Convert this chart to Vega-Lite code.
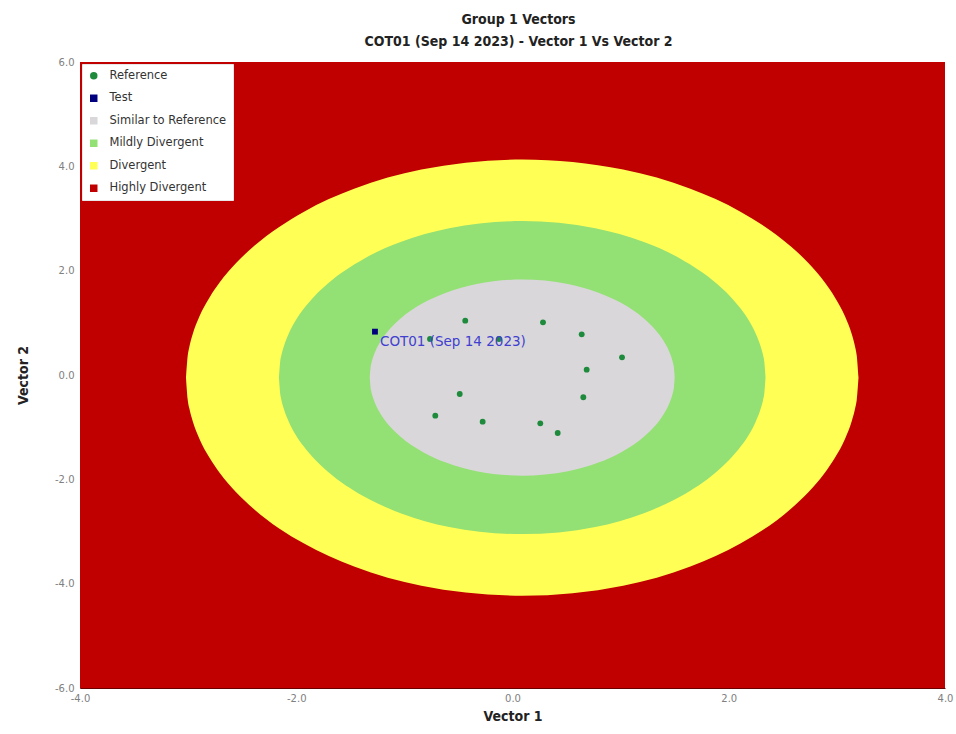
{
  "$schema": "https://vega.github.io/schema/vega-lite/v6.json",
  "width": 865,
  "height": 626,
  "autosize": {"type": "none"},
  "padding": {"left": 80, "top": 62, "right": 11, "bottom": 46},
  "background": "white",
  "title": {
    "text": ["Group 1 Vectors", "COT01 (Sep 14 2023) - Vector 1 Vs Vector 2"],
    "font": "'DejaVu Sans Condensed', 'Liberation Sans', sans-serif",
    "fontSize": 14,
    "fontWeight": "bold",
    "color": "#222222",
    "lineHeight": 22,
    "offset": 8,
    "frame": "group",
    "anchor": "middle",
    "dx": 6
  },
  "config": {
    "view": {"stroke": null},
    "font": "DejaVu Sans",
    "axis": {
      "grid": false,
      "ticks": false,
      "domain": true,
      "domainColor": "#6a0000",
      "domainWidth": 1,
      "labelColor": "#808080",
      "labelFontSize": 10,
      "labelFont": "DejaVu Sans",
      "titleFont": "'DejaVu Sans Condensed', 'Liberation Sans', sans-serif",
      "titleFontSize": 14,
      "titleFontWeight": "bold",
      "titleColor": "#222222",
      "labelOverlap": false,
      "labelBound": false,
      "labelFlush": false
    },
    "legend": {
      "orient": "top-left",
      "offset": 2,
      "padding": 6,
      "fillColor": "white",
      "strokeColor": "#e8e8e8",
      "labelFont": "DejaVu Sans",
      "labelFontSize": 11.5,
      "labelColor": "#333333",
      "labelOffset": 10,
      "labelLimit": 300,
      "rowPadding": 9.5,
      "symbolSize": 56,
      "symbolStrokeWidth": 0,
      "cornerRadius": 0
    }
  },
  "datasets": {
    "zones": [
      {"cat": "Highly Divergent", "x": -4, "x2": 4, "y": -6, "y2": 6}
    ],
    "rings": [
      {"cat": "Divergent", "x": -3.02, "top": -0.05, "bot": -0.05},
      {"cat": "Divergent", "x": -3.004, "top": 0.368, "bot": -0.468},
      {"cat": "Divergent", "x": -2.989, "top": 0.539, "bot": -0.639},
      {"cat": "Divergent", "x": -2.958, "top": 0.782, "bot": -0.882},
      {"cat": "Divergent", "x": -2.896, "top": 1.12, "bot": -1.22},
      {"cat": "Divergent", "x": -2.802, "top": 1.487, "bot": -1.587},
      {"cat": "Divergent", "x": -2.709, "top": 1.772, "bot": -1.872},
      {"cat": "Divergent", "x": -2.554, "top": 2.152, "bot": -2.252},
      {"cat": "Divergent", "x": -2.398, "top": 2.458, "bot": -2.558},
      {"cat": "Divergent", "x": -1.932, "top": 3.127, "bot": -3.227},
      {"cat": "Divergent", "x": -1.465, "top": 3.57, "bot": -3.67},
      {"cat": "Divergent", "x": -0.843, "top": 3.938, "bot": -4.038},
      {"cat": "Divergent", "x": 0.09, "top": 4.13, "bot": -4.23},
      {"cat": "Divergent", "x": 1.023, "top": 3.938, "bot": -4.038},
      {"cat": "Divergent", "x": 1.645, "top": 3.57, "bot": -3.67},
      {"cat": "Divergent", "x": 2.112, "top": 3.127, "bot": -3.227},
      {"cat": "Divergent", "x": 2.578, "top": 2.458, "bot": -2.558},
      {"cat": "Divergent", "x": 2.734, "top": 2.152, "bot": -2.252},
      {"cat": "Divergent", "x": 2.889, "top": 1.772, "bot": -1.872},
      {"cat": "Divergent", "x": 2.982, "top": 1.487, "bot": -1.587},
      {"cat": "Divergent", "x": 3.076, "top": 1.12, "bot": -1.22},
      {"cat": "Divergent", "x": 3.138, "top": 0.782, "bot": -0.882},
      {"cat": "Divergent", "x": 3.169, "top": 0.539, "bot": -0.639},
      {"cat": "Divergent", "x": 3.184, "top": 0.368, "bot": -0.468},
      {"cat": "Divergent", "x": 3.2, "top": -0.05, "bot": -0.05},
      {"cat": "Mildly Divergent", "x": -2.16, "top": -0.05, "bot": -0.05},
      {"cat": "Mildly Divergent", "x": -2.149, "top": 0.25, "bot": -0.35},
      {"cat": "Mildly Divergent", "x": -2.138, "top": 0.373, "bot": -0.473},
      {"cat": "Mildly Divergent", "x": -2.115, "top": 0.547, "bot": -0.647},
      {"cat": "Mildly Divergent", "x": -2.07, "top": 0.79, "bot": -0.89},
      {"cat": "Mildly Divergent", "x": -2.003, "top": 1.053, "bot": -1.153},
      {"cat": "Mildly Divergent", "x": -1.935, "top": 1.258, "bot": -1.358},
      {"cat": "Mildly Divergent", "x": -1.823, "top": 1.53, "bot": -1.63},
      {"cat": "Mildly Divergent", "x": -1.71, "top": 1.75, "bot": -1.85},
      {"cat": "Mildly Divergent", "x": -1.373, "top": 2.23, "bot": -2.33},
      {"cat": "Mildly Divergent", "x": -1.035, "top": 2.548, "bot": -2.648},
      {"cat": "Mildly Divergent", "x": -0.585, "top": 2.812, "bot": -2.912},
      {"cat": "Mildly Divergent", "x": 0.09, "top": 2.95, "bot": -3.05},
      {"cat": "Mildly Divergent", "x": 0.765, "top": 2.812, "bot": -2.912},
      {"cat": "Mildly Divergent", "x": 1.215, "top": 2.548, "bot": -2.648},
      {"cat": "Mildly Divergent", "x": 1.553, "top": 2.23, "bot": -2.33},
      {"cat": "Mildly Divergent", "x": 1.89, "top": 1.75, "bot": -1.85},
      {"cat": "Mildly Divergent", "x": 2.003, "top": 1.53, "bot": -1.63},
      {"cat": "Mildly Divergent", "x": 2.115, "top": 1.258, "bot": -1.358},
      {"cat": "Mildly Divergent", "x": 2.183, "top": 1.053, "bot": -1.153},
      {"cat": "Mildly Divergent", "x": 2.25, "top": 0.79, "bot": -0.89},
      {"cat": "Mildly Divergent", "x": 2.295, "top": 0.547, "bot": -0.647},
      {"cat": "Mildly Divergent", "x": 2.318, "top": 0.373, "bot": -0.473},
      {"cat": "Mildly Divergent", "x": 2.329, "top": 0.25, "bot": -0.35},
      {"cat": "Mildly Divergent", "x": 2.34, "top": -0.05, "bot": -0.05},
      {"cat": "Similar to Reference", "x": -1.32, "top": -0.05, "bot": -0.05},
      {"cat": "Similar to Reference", "x": -1.313, "top": 0.138, "bot": -0.238},
      {"cat": "Similar to Reference", "x": -1.306, "top": 0.215, "bot": -0.315},
      {"cat": "Similar to Reference", "x": -1.292, "top": 0.324, "bot": -0.424},
      {"cat": "Similar to Reference", "x": -1.264, "top": 0.476, "bot": -0.576},
      {"cat": "Similar to Reference", "x": -1.221, "top": 0.641, "bot": -0.741},
      {"cat": "Similar to Reference", "x": -1.179, "top": 0.77, "bot": -0.87},
      {"cat": "Similar to Reference", "x": -1.109, "top": 0.94, "bot": -1.04},
      {"cat": "Similar to Reference", "x": -1.038, "top": 1.078, "bot": -1.178},
      {"cat": "Similar to Reference", "x": -0.827, "top": 1.379, "bot": -1.479},
      {"cat": "Similar to Reference", "x": -0.615, "top": 1.578, "bot": -1.678},
      {"cat": "Similar to Reference", "x": -0.333, "top": 1.744, "bot": -1.844},
      {"cat": "Similar to Reference", "x": 0.09, "top": 1.83, "bot": -1.93},
      {"cat": "Similar to Reference", "x": 0.513, "top": 1.744, "bot": -1.844},
      {"cat": "Similar to Reference", "x": 0.795, "top": 1.578, "bot": -1.678},
      {"cat": "Similar to Reference", "x": 1.007, "top": 1.379, "bot": -1.479},
      {"cat": "Similar to Reference", "x": 1.218, "top": 1.078, "bot": -1.178},
      {"cat": "Similar to Reference", "x": 1.289, "top": 0.94, "bot": -1.04},
      {"cat": "Similar to Reference", "x": 1.359, "top": 0.77, "bot": -0.87},
      {"cat": "Similar to Reference", "x": 1.401, "top": 0.641, "bot": -0.741},
      {"cat": "Similar to Reference", "x": 1.444, "top": 0.476, "bot": -0.576},
      {"cat": "Similar to Reference", "x": 1.472, "top": 0.324, "bot": -0.424},
      {"cat": "Similar to Reference", "x": 1.486, "top": 0.215, "bot": -0.315},
      {"cat": "Similar to Reference", "x": 1.493, "top": 0.138, "bot": -0.238},
      {"cat": "Similar to Reference", "x": 1.5, "top": -0.05, "bot": -0.05}
    ],
    "points": [
      {"cat": "Reference", "x": -0.437, "y": 1.041},
      {"cat": "Reference", "x": 0.282, "y": 1.01},
      {"cat": "Reference", "x": 0.64, "y": 0.78},
      {"cat": "Reference", "x": 1.013, "y": 0.339},
      {"cat": "Reference", "x": 0.686, "y": 0.102},
      {"cat": "Reference", "x": 0.655, "y": -0.427},
      {"cat": "Reference", "x": -0.488, "y": -0.364},
      {"cat": "Reference", "x": -0.714, "y": -0.78},
      {"cat": "Reference", "x": -0.276, "y": -0.895},
      {"cat": "Reference", "x": 0.257, "y": -0.926},
      {"cat": "Reference", "x": 0.418, "y": -1.112},
      {"cat": "Reference", "x": -0.763, "y": 0.69},
      {"cat": "Reference", "x": -0.125, "y": 0.69},
      {"cat": "Test", "x": -1.272, "y": 0.831, "label": "COT01 (Sep 14 2023)"}
    ]
  },
  "layer": [
    {
      "data": {"name": "zones"},
      "mark": {"type": "rect"},
      "encoding": {
        "x": {"field": "x", "type": "quantitative", "scale": {"domain": [-4, 4], "nice": false, "zero": false}, "axis": {"values": [-4, -2, 0, 2, 4], "labelExpr": "(datum.value < 0 ? '-' : '') + format(abs(datum.value), '.1f')", "title": "Vector 1", "labelPadding": 5, "titlePadding": 6}},
        "x2": {"field": "x2"},
        "y": {"field": "y", "type": "quantitative", "scale": {"domain": [-6, 6], "nice": false, "zero": false}, "axis": {"values": [-6, -4, -2, 0, 2, 4, 6], "labelExpr": "(datum.value < 0 ? '-' : '') + format(abs(datum.value), '.1f')", "title": "Vector 2", "labelPadding": 6, "titlePadding": 24}},
        "y2": {"field": "y2"},
        "color": {"field": "cat", "type": "nominal", "legend": {"title": null}}
      }
    },
    {
      "data": {"name": "rings"},
      "transform": [{"filter": "datum.cat === 'Divergent'"}],
      "mark": {"type": "area", "interpolate": "monotone"},
      "encoding": {
        "x": {"field": "x", "type": "quantitative"},
        "y": {"field": "top", "type": "quantitative", "stack": null},
        "y2": {"field": "bot"},
        "color": {"field": "cat", "type": "nominal"}
      }
    },
    {
      "data": {"name": "rings"},
      "transform": [{"filter": "datum.cat === 'Mildly Divergent'"}],
      "mark": {"type": "area", "interpolate": "monotone"},
      "encoding": {
        "x": {"field": "x", "type": "quantitative"},
        "y": {"field": "top", "type": "quantitative", "stack": null},
        "y2": {"field": "bot"},
        "color": {"field": "cat", "type": "nominal"}
      }
    },
    {
      "data": {"name": "rings"},
      "transform": [{"filter": "datum.cat === 'Similar to Reference'"}],
      "mark": {"type": "area", "interpolate": "monotone"},
      "encoding": {
        "x": {"field": "x", "type": "quantitative"},
        "y": {"field": "top", "type": "quantitative", "stack": null},
        "y2": {"field": "bot"},
        "color": {"field": "cat", "type": "nominal"}
      }
    },
    {
      "data": {"name": "points"},
      "mark": {"type": "point", "filled": true, "opacity": 1, "size": 34},
      "encoding": {
        "x": {"field": "x", "type": "quantitative"},
        "y": {"field": "y", "type": "quantitative"},
        "color": {
          "field": "cat",
          "type": "nominal",
          "scale": {
            "domain": ["Reference", "Test", "Similar to Reference", "Mildly Divergent", "Divergent", "Highly Divergent"],
            "range": ["#1e8a3c", "#00007f", "#d9d7d9", "#93e074", "#ffff55", "#c00000"]
          },
          "legend": {"title": null}
        },
        "shape": {
          "field": "cat",
          "type": "nominal",
          "scale": {
            "domain": ["Reference", "Test", "Similar to Reference", "Mildly Divergent", "Divergent", "Highly Divergent"],
            "range": ["circle", "square", "square", "square", "square", "square"]
          },
          "legend": {"title": null}
        }
      }
    },
    {
      "data": {"name": "points"},
      "transform": [{"filter": "datum.cat === 'Test'"}],
      "mark": {"type": "text", "align": "left", "baseline": "top", "dx": 5, "dy": 3, "font": "DejaVu Sans", "fontSize": 13.5, "color": "#4040d0"},
      "encoding": {
        "x": {"field": "x", "type": "quantitative"},
        "y": {"field": "y", "type": "quantitative"},
        "text": {"field": "label"}
      }
    }
  ]
}
